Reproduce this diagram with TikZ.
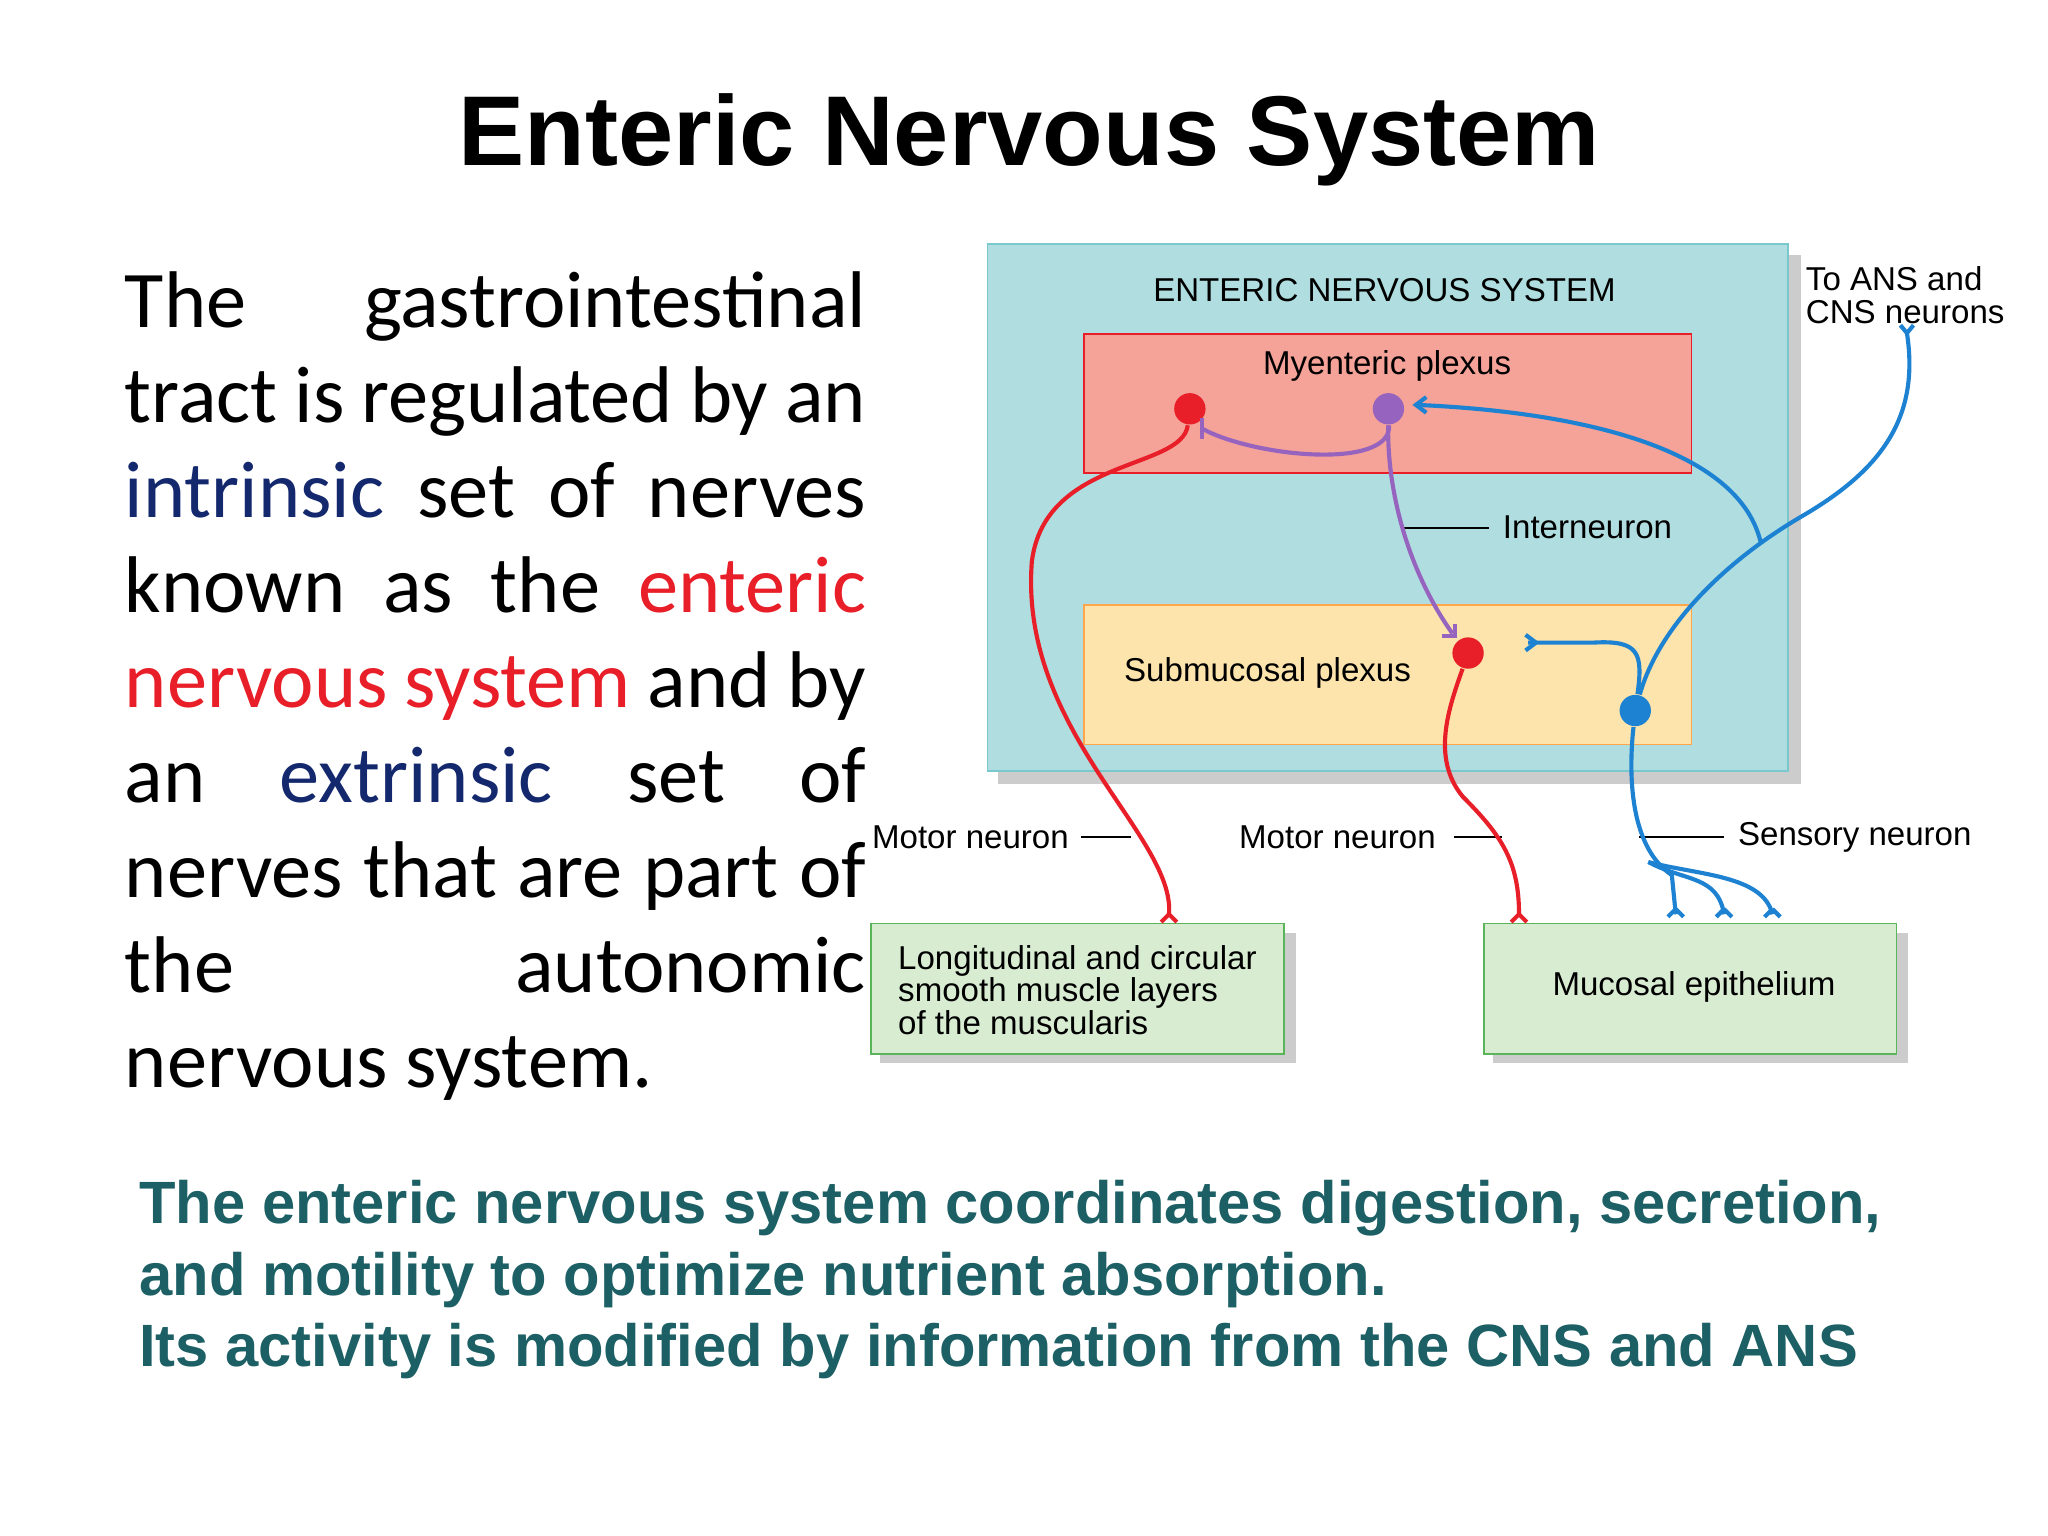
\documentclass[tikz,border=0pt]{standalone}
\usepackage{fontspec}
\setmainfont{Liberation Sans}
\newfontfamily\calfont{Carlito}
\usetikzlibrary{arrows.meta}
\definecolor{teal1}{RGB}{176,222,224}
\definecolor{tealb}{RGB}{120,200,205}
\definecolor{redf}{RGB}{245,162,152}
\definecolor{yelf}{RGB}{253,228,172}
\definecolor{grnf}{RGB}{216,236,210}
\definecolor{grnb}{RGB}{90,180,90}
\definecolor{nred}{RGB}{232,30,40}
\definecolor{npur}{RGB}{150,100,190}
\definecolor{nblu}{RGB}{30,130,210}
\definecolor{navy}{RGB}{20,40,110}
\definecolor{bott}{RGB}{28,95,100}
\newcommand\jline[1]{\makebox[5.67cm][s]{#1}}
\begin{document}
\begin{tikzpicture}[x=0.01cm,y=-0.01cm,
 lab/.style={font=\fontsize{7.2}{8}\selectfont,inner sep=0pt},
 sh/.style={fill=black!20},
 ax/.style={line width=0.9pt},
 dot/.style={circle,inner sep=0pt,minimum size=0.24cm}]
\useasboundingbox (0,0) rectangle (1568,1176);
\fill[white] (0,0) rectangle (1568,1176);
\node[font=\fontsize{21.6}{26}\selectfont\bfseries] (title) at (788,107) {Enteric Nervous System};
\node[font=\calfont\fontsize{17.5}{20.7}\selectfont,align=left,anchor=north west,inner sep=0pt] (body) at (95,207)
{\jline{The gastrointestinal}\\
\jline{tract is regulated by an}\\
\jline{{\color{navy}intrinsic} set of nerves}\\
\jline{known as the {\color{nred}enteric}}\\
\jline{{\color{nred}nervous system} and by}\\
\jline{an {\color{navy}extrinsic} set of}\\
\jline{nerves that are part of}\\
\jline{the autonomic}\\
nervous system.};
\node[font=\fontsize{13}{15.6}\selectfont\bfseries,color=bott,align=left,anchor=north west,inner sep=0pt] (bottom) at (106,903)
{The enteric nervous system coordinates digestion, secretion,\\and motility to optimize nutrient absorption.\\Its activity is modified by information from the CNS and ANS};
% boxes
\fill[sh] (764,195) rectangle (1379,600);
\draw[tealb,fill=teal1] (756,187) rectangle (1369,590);
\draw[nred,fill=redf] (830,256) rectangle (1295,362);
\draw[orange!70,fill=yelf] (830,463) rectangle (1295,570);
\fill[sh] (674,714) rectangle (992,814);
\fill[sh] (1143,714) rectangle (1461,814);
\draw[grnb,fill=grnf] (667,707) rectangle (983,807);
\draw[grnb,fill=grnf] (1136,707) rectangle (1452,807);
\node[lab] (ens) at (1060,222) {ENTERIC NERVOUS SYSTEM};
\node[lab] (mye) at (1062,280) {Myenteric plexus};
\node[lab,anchor=west] (sub) at (860,515) {Submucosal plexus};
\node[lab,font=\fontsize{7.2}{7.1}\selectfont,align=left,anchor=west] (lon) at (687,758) {Longitudinal and circular\\smooth muscle layers\\of the muscularis};
\node[lab] (muc) at (1297,756) {Mucosal epithelium};
\node[lab,font=\fontsize{7.2}{7.3}\selectfont,align=left,anchor=north west] (ans) at (1382,203) {To ANS and\\CNS neurons};
\node[lab,anchor=west] (inter) at (1150,404) {Interneuron};
\node[lab,anchor=west] (mn1) at (667,641) {Motor neuron};
\node[lab,anchor=west] (mn2) at (948,641) {Motor neuron};
\node[lab,anchor=west] (sen) at (1330,641) {Sensory neuron};
\coordinate (i1) at (1075,404); \coordinate (m1) at (828,641); \coordinate (m1b) at (866,641);
\coordinate (m2) at (1113,641); \coordinate (m2b) at (1150,641); \coordinate (s1) at (1255,641);
\draw (i1) -- ([xshift=-0.1cm]inter.west); \draw (m1) -- (m1b); \draw (m2) -- (m2b); \draw (s1) -- ([xshift=-0.1cm]sen.west);
% neurons
\node[dot,fill=nred] (r1) at (911,313) {};
\node[dot,fill=npur] (p1) at (1063,313) {};
\node[dot,fill=nred] (r2) at (1124,500) {};
\node[dot,fill=nblu] (b1) at (1252,544) {};
\coordinate (t1) at (895,700); \coordinate (t2) at (1163,700);
\draw[ax,nred] (r1) .. controls (905,360) and (800,350) .. (790,430) .. controls (780,560) and (900,640) .. (t1);
\draw[ax,nred] (t1) -- ++(-6,6) (t1) -- ++(6,6);
\draw[ax,nred] (r2) .. controls (1110,540) and (1095,580) .. (1120,610) .. controls (1150,640) and (1163,660) .. (t2);
\draw[ax,nred] (t2) -- ++(-6,6) (t2) -- ++(6,6);
\coordinate (pe) at (920,328);
\draw[ax,npur] (p1) .. controls (1065,360) and (960,350) .. (pe);
\draw[ax,npur] (920,320) -- (920,336);
\draw[ax,npur] (p1) .. controls (1062,380) and (1080,440) .. (1112,485);
\draw[ax,npur] (1104,487) -- (1114,487) -- (1114,478);
\coordinate (ae) at (1460,255);
\draw[ax,nblu] (b1) .. controls (1270,480) and (1320,430) .. (1380,395) .. controls (1440,360) and (1470,320) .. (ae);
\draw[ax,nblu] (ae) -- ++(-5,-6) (ae) -- ++(5,-6);
\coordinate (be) at (1170,492);
\draw[ax,nblu] (b1) .. controls (1258,500) and (1255,490) .. (1220,492) -- (be);
\draw[ax,nblu] (1168,486) -- (1176,492) -- (1168,498);
\coordinate (ce) at (1085,310);
\draw[ax,nblu] (1348,415) .. controls (1330,340) and (1200,315) .. (ce);
\draw[ax,nblu] (1092,304) -- (1084,310) -- (1092,316);
\draw[ax,nblu] (b1) .. controls (1246,600) and (1250,650) .. (1280,670) -- (1283,700);
\draw[ax,nblu] (1262,660) .. controls (1290,675) and (1315,670) .. (1320,700);
\draw[ax,nblu] (1262,660) .. controls (1300,670) and (1350,670) .. (1357,700);
\foreach \x in {1283,1320,1357}{\draw[ax,nblu] (\x,696) -- ++(-6,6) (\x,696) -- ++(6,6);}
\end{tikzpicture}
\end{document}
